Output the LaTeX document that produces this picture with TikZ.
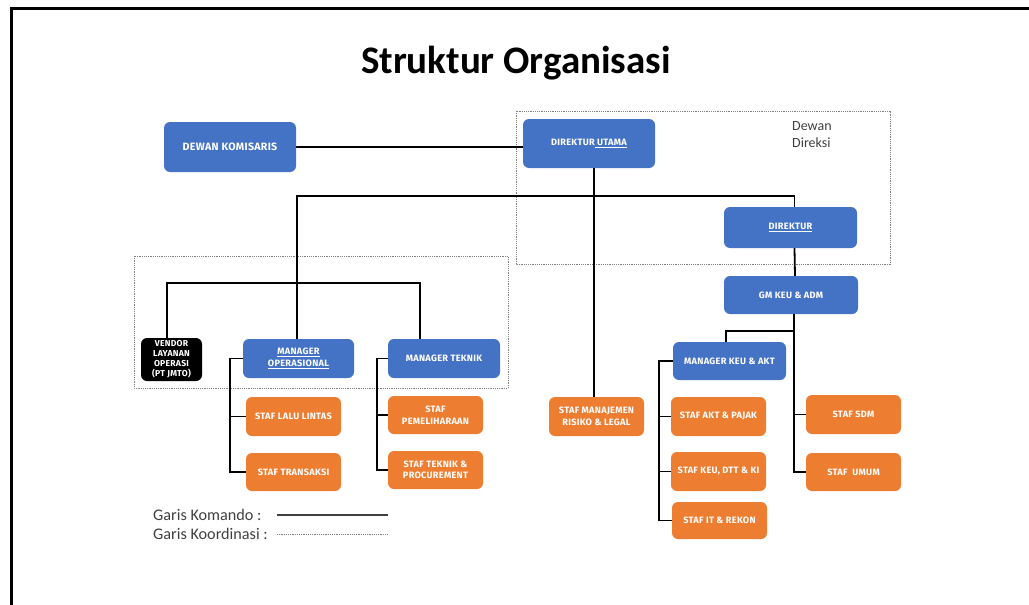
\documentclass[tikz,border=0pt]{standalone}
\usepackage{fontspec}
\setmainfont{Carlito}
\newfontfamily\boxfont{Fira Sans}[LetterSpace=3]
\definecolor{cblue}{HTML}{4472C4}
\definecolor{corange}{HTML}{ED7D31}
\definecolor{ctext}{HTML}{404040}
\tikzset{
  box/.style={rounded corners=6pt, inner sep=1pt, align=center, text=white,
    font=\boxfont\bfseries\fontsize{9.2}{11.5}\selectfont},
  bbox/.style={box, fill=cblue},
  obox/.style={box, fill=corange},
  kbox/.style={box, fill=black, font=\boxfont\bfseries\fontsize{8.6}{10}\selectfont},
  link/.style={line width=1.8pt, black},
  dotbox/.style={draw=gray, line width=0.8pt, dash pattern=on 1.2pt off 1pt},
}
\begin{document}
\begin{tikzpicture}[x=1pt,y=-1pt]
\useasboundingbox (0,0) rectangle (1029,605);
\draw[line width=3pt] (11,606) -- (11,8) -- (1030,8);
\node[font=\bfseries\fontsize{39}{44}\selectfont, anchor=base] (title) at (516,73) {Struktur Organisasi};

% dashed groups
\draw[dotbox] (516,111) rectangle (890,264);
\draw[dotbox] (134,256) rectangle (508,388);
\node[anchor=north west, align=left, text=ctext, font=\fontsize{14}{17}\selectfont, inner sep=0pt] (dd) at (792,121) {Dewan\\Direksi};

% nodes
\node[bbox, minimum width=132, minimum height=50, font=\boxfont\bfseries\fontsize{10.6}{12}\selectfont] (dk) at (230,147) {DEWAN KOMISARIS};
\node[bbox, minimum width=132, minimum height=49] (du) at (589,143.5) {DIREKTUR\underline{ UTAMA}};
\node[bbox, minimum width=133, minimum height=41] (dir) at (790.5,227.5) {\underline{DIREKTUR}};
\node[bbox, minimum width=134, minimum height=38] (gm) at (791,295) {GM KEU \& ADM};
\node[bbox, minimum width=113, minimum height=38] (mk) at (729.5,361) {MANAGER KEU \& AKT};
\node[kbox, minimum width=61, minimum height=43] (vendor) at (171.5,359.5) {VENDOR\\LAYANAN\\OPERASI\\(PT JMTO)};
\node[bbox, minimum width=111, minimum height=39] (mo) at (298.5,358.5) {\underline{MANAGER}\\\underline{OPERASIONAL}};
\node[bbox, minimum width=112, minimum height=39] (mt) at (444,358.5) {MANAGER TEKNIK};
\node[obox, minimum width=95, minimum height=39] (sll) at (293.5,416.5) {STAF LALU LINTAS};
\node[obox, minimum width=95, minimum height=38] (str) at (293.5,472) {STAF TRANSAKSI};
\node[obox, minimum width=95, minimum height=38] (spm) at (435.5,415) {STAF\\PEMELIHARAAN};
\node[obox, minimum width=95, minimum height=38] (stp) at (435.5,470) {STAF TEKNIK \&\\PROCUREMENT};
\node[obox, minimum width=95, minimum height=39] (smr) at (596.5,416.5) {STAF MANAJEMEN\\RISIKO \& LEGAL};
\node[obox, minimum width=95, minimum height=39] (sap) at (718.5,416.5) {STAF AKT \& PAJAK};
\node[obox, minimum width=95, minimum height=39] (skd) at (718.5,471.5) {STAF KEU, DTT \& KI};
\node[obox, minimum width=95, minimum height=37] (sit) at (719.5,520.5) {STAF IT \& REKON};
\node[obox, minimum width=95, minimum height=39] (ssdm) at (853.5,414.5) {STAF SDM};
\node[obox, minimum width=95, minimum height=38] (sumum) at (853.5,472) {STAF\ \ UMUM};

% junction coordinates
\coordinate (topbar) at (0,196);
\coordinate (leftbar) at (0,283);
\coordinate (gmj) at (794,331);
\coordinate (mkx) at (659,0);
\coordinate (mox) at (230,0);
\coordinate (mtx) at (377,0);
\coordinate (mtn) at ([xshift=-24pt]mt.north);
\coordinate (vdn) at ([xshift=-4.5pt]vendor.north);
\coordinate (mon) at ([xshift=-1.5pt]mo.north);
\coordinate (dirn) at ([xshift=4pt]dir.north);
\coordinate (dirs) at ([xshift=4pt]dir.south);
\coordinate (gmn) at ([xshift=4pt]gm.north);
\coordinate (gms) at ([xshift=3pt]gm.south);
\coordinate (mkn) at ([xshift=-3.5pt]mk.north);
\coordinate (smrn) at ([xshift=-2.5pt]smr.north);

% connectors
\draw[link] (dk.east) -- (dk.east -| du.west);
\draw[link] (smrn) -- (smrn |- du.south);
\draw[link] (mon) -- (mon |- topbar) -| (dirn);
\draw[link] (vdn) |- (leftbar -| mtn) -- (mtn);
\draw[link] (dirs) -- (gmn);
\draw[link] (gms) |- (sumum.west);
\draw[link] (gms |- ssdm.west) -- (ssdm.west);
\draw[link] (gmj) -| (mkn);
\draw[link] (mk.west) -| (mkx |- sit.west) -- (sit.west);
\draw[link] (mkx |- sap.west) -- (sap.west);
\draw[link] (mkx |- skd.west) -- (skd.west);
\draw[link] (mo.west) -| (mox |- str.west) -- (str.west);
\draw[link] (mox |- sll.west) -- (sll.west);
\draw[link] (mt.west) -| (mtx |- stp.west) -- (stp.west);
\draw[link] (mtx |- spm.west) -- (spm.west);

% legend
\node[anchor=west, text=ctext, font=\fontsize{16.2}{19}\selectfont, inner sep=0pt] (lk) at (153,515) {Garis Komando :};
\node[anchor=west, text=ctext, font=\fontsize{16.2}{19}\selectfont, inner sep=0pt] (lc) at (153,534) {Garis Koordinasi :};
\coordinate (lk1) at (277,515);
\coordinate (lk2) at (388,515);
\coordinate (lc1) at (277,534);
\coordinate (lc2) at (388,534);
\draw[line width=1.8pt, ctext] (lk1) -- (lk2);
\draw[draw=gray, line width=0.8pt, dash pattern=on 1.2pt off 1pt] (lc1) -- (lc2);
\end{tikzpicture}
\end{document}
